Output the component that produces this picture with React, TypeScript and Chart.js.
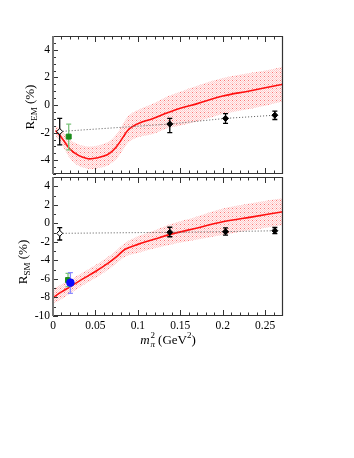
import React, { useEffect, useRef } from "react";
import { Chart, registerables } from "chart.js";
Chart.register(...registerables);

// ---------- data ----------
const xTickValues = [0, 0.05, 0.1, 0.15, 0.2, 0.25];
const emTickValues = [-4, -2, 0, 2, 4];
const smTickValues = [-10, -8, -6, -4, -2, 0, 2, 4];

// R_EM theory curve + band
const emCurveX = [0.003, 0.01, 0.02, 0.03, 0.04, 0.045, 0.051, 0.06, 0.067, 0.075, 0.083, 0.088, 0.094, 0.102, 0.118, 0.134, 0.149, 0.17, 0.2, 0.23, 0.25, 0.271];
const emCurve = [-1.85, -2.35, -3.2, -3.65, -3.88, -3.9, -3.84, -3.7, -3.48, -3.0, -2.29, -1.85, -1.55, -1.3, -0.98, -0.58, -0.25, 0.1, 0.65, 1.0, 1.25, 1.5];
const emBandHi = [-1.5, -1.8, -2.5, -2.85, -3.0, -3.0, -2.95, -2.8, -2.6, -2.1, -1.3, -0.85, -0.55, -0.3, 0.1, 0.6, 0.95, 1.4, 1.95, 2.3, 2.5, 2.75];
const emBandLo = [-2.2, -2.85, -3.85, -4.4, -4.6, -4.65, -4.6, -4.5, -4.3, -3.9, -3.2, -2.75, -2.5, -2.3, -2.1, -1.7, -1.5, -1.2, -0.65, -0.3, -0.05, 0.25];

// R_SM theory curve + band
const smCurveX = [0.0, 0.01, 0.02, 0.035, 0.05, 0.065, 0.075, 0.085, 0.1, 0.12, 0.138, 0.17, 0.2, 0.235, 0.271];
const smCurve = [-8.0, -7.4, -6.85, -6.0, -5.2, -4.3, -3.6, -2.8, -2.27, -1.7, -1.19, -0.5, 0.17, 0.7, 1.25];
const smBandHi = [-7.1, -6.6, -6.1, -5.3, -4.5, -3.6, -2.9, -2.1, -1.4, -0.75, -0.1, 0.75, 1.6, 2.2, 2.7];
const smBandLo = [-8.7, -8.2, -7.6, -6.7, -5.9, -5.0, -4.3, -3.6, -3.2, -2.7, -2.3, -1.75, -1.26, -0.7, -0.18];

// physical point (open diamond)
const openX = [0.0079];
const emOpenY = [-1.92];
const emOpenHi = [-0.97];
const emOpenLo = [-2.89];
const smOpenY = [-1.08];
const smOpenHi = [-0.47];
const smOpenLo = [-1.8];

// experiment (green square)
const emGreenX = [0.0185];
const emGreenY = [-2.29];
const emGreenHi = [-1.38];
const emGreenLo = [-3.25];
const smGreenX = [0.0177];
const smGreenY = [-6.12];
const smGreenHi = [-5.4];
const smGreenLo = [-6.84];

// experiment (blue circle, SM only)
const smBlueX = [0.0205];
const smBlueY = [-6.4];
const smBlueHi = [-5.33];
const smBlueLo = [-7.55];

// lattice points (filled diamonds)
const latX = [0.1376, 0.2033, 0.2614];
const emLatY = [-1.38, -0.97, -0.74];
const emLatHi = [-0.97, -0.62, -0.45];
const emLatLo = [-2.0, -1.33, -1.05];
const smLatY = [-0.97, -0.9, -0.8];
const smLatHi = [-0.42, -0.5, -0.45];
const smLatLo = [-1.45, -1.28, -1.12];

// ---------- helpers ----------
const SERIF = "'Liberation Serif', 'Times New Roman', serif";
const pts = (xs: number[], ys: number[]) => xs.map((x, i) => ({ x, y: ys[i] }));

function makePattern(): CanvasPattern | string {
  const c = document.createElement("canvas");
  c.width = 4;
  c.height = 4;
  const g = c.getContext("2d");
  if (!g) return "rgba(255,150,150,0.5)";
  for (let yy = 0; yy < 4; yy++) {
    for (let xx = 0; xx < 4; xx++) {
      g.fillStyle = (xx + yy) % 2 === 0 ? "rgba(255,140,140,0.45)" : "rgba(255,200,200,0.2)";
      g.fillRect(xx, yy, 1, 1);
    }
  }
  g.fillStyle = "rgba(250,50,50,0.55)";
  g.fillRect(0, 0, 1, 1);
  return g.createPattern(c, "repeat") || "rgba(255,150,150,0.5)";
}

const framePlugin = {
  id: "frame",
  afterDatasetsDraw(chart: any, _args: any, opts: any) {
    const { ctx, chartArea: a, scales } = chart;
    const xs = scales.x;
    const ys = scales.y;
    ctx.save();
    ctx.strokeStyle = "#333";
    ctx.lineWidth = 1;
    for (let i = 0; i <= 27; i++) {
      const v = i * 0.01;
      const major = i % 5 === 0;
      const px = Math.round(xs.getPixelForValue(v)) + 0.5;
      const len = major ? 6 : 3.5;
      ctx.beginPath();
      ctx.moveTo(px, a.top);
      ctx.lineTo(px, a.top + len);
      ctx.moveTo(px, a.bottom);
      ctx.lineTo(px, a.bottom - len);
      ctx.stroke();
    }
    const step = opts.yMinor;
    const n0 = Math.ceil(ys.min / step);
    const n1 = Math.floor(ys.max / step);
    for (let i = n0; i <= n1; i++) {
      const v = i * step;
      const major = Math.abs(v / 2 - Math.round(v / 2)) < 1e-6;
      const py = Math.round(ys.getPixelForValue(v)) + 0.5;
      const len = major ? 5 : 3;
      ctx.beginPath();
      ctx.moveTo(a.left, py);
      ctx.lineTo(a.left + len, py);
      ctx.stroke();
    }
    ctx.strokeStyle = "#333";
    ctx.lineWidth = 1.2;
    ctx.beginPath();
    ctx.moveTo(a.left, a.top + 0.5);
    ctx.lineTo(a.right - 0.5, a.top + 0.5);
    ctx.lineTo(a.right - 0.5, a.bottom - 0.5);
    ctx.lineTo(a.left, a.bottom - 0.5);
    ctx.stroke();
    ctx.strokeStyle = "#777";
    ctx.lineWidth = 2;
    ctx.beginPath();
    ctx.moveTo(a.left, a.top);
    ctx.lineTo(a.left, a.bottom);
    ctx.stroke();
    ctx.restore();
  },
};

const errPlugin = {
  id: "errbars",
  beforeDatasetDraw(chart: any, args: any) {
    const ds: any = chart.data.datasets[args.index];
    if (!ds.errHi) return;
    const { ctx } = chart;
    const xs = chart.scales.x;
    const ys = chart.scales.y;
    ctx.save();
    ctx.strokeStyle = ds.errColor;
    ctx.lineWidth = 1.3;
    ds.data.forEach((p: any, i: number) => {
      const px = xs.getPixelForValue(p.x);
      const yh = ys.getPixelForValue(ds.errHi[i]);
      const yl = ys.getPixelForValue(ds.errLo[i]);
      ctx.beginPath();
      ctx.moveTo(px, yh);
      ctx.lineTo(px, yl);
      ctx.moveTo(px - 2.5, yh);
      ctx.lineTo(px + 2.5, yh);
      ctx.moveTo(px - 2.5, yl);
      ctx.lineTo(px + 2.5, yl);
      ctx.stroke();
    });
    ctx.restore();
  },
};

function buildConfig(p: any) {
  const pattern = makePattern();
  const datasets: any[] = [
    {
      data: pts(p.curveX, p.bandLo),
      borderWidth: 0,
      pointRadius: 0,
      tension: 0.3,
      fill: false,
      order: 20,
    },
    {
      data: pts(p.curveX, p.bandHi),
      borderWidth: 0,
      pointRadius: 0,
      tension: 0.3,
      fill: "-1",
      backgroundColor: pattern,
      order: 19,
    },
    {
      data: pts(p.curveX, p.curve),
      borderColor: "#ff1010",
      borderWidth: 1.6,
      pointRadius: 0,
      tension: 0.35,
      fill: false,
      order: 10,
    },
    {
      data: [...pts(openX, p.openY), ...pts(latX, p.latY)],
      borderColor: "#555",
      borderWidth: 1,
      borderDash: [1, 2],
      pointRadius: 0,
      fill: false,
      order: 9,
    },
    {
      data: pts(openX, p.openY),
      showLine: false,
      pointStyle: "rectRot",
      pointRadius: 3,
      pointBackgroundColor: "#fff",
      pointBorderColor: "#000",
      pointBorderWidth: 1,
      errHi: p.openHi,
      errLo: p.openLo,
      errColor: "#000",
      order: 3,
    },
    {
      data: pts(p.greenX, p.greenY),
      showLine: false,
      pointStyle: "rect",
      pointRadius: 3.5,
      pointBackgroundColor: "#1a8c1a",
      pointBorderColor: "#1a8c1a",
      pointBorderWidth: 1,
      errHi: p.greenHi,
      errLo: p.greenLo,
      errColor: "#7cc47c",
      order: 4,
    },
    {
      data: pts(latX, p.latY),
      showLine: false,
      pointStyle: "rectRot",
      pointRadius: 3,
      pointBackgroundColor: "#000",
      pointBorderColor: "#000",
      pointBorderWidth: 1,
      errHi: p.latHi,
      errLo: p.latLo,
      errColor: "#000",
      order: 2,
    },
  ];
  if (p.blueX) {
    datasets.push({
      data: pts(p.blueX, p.blueY),
      showLine: false,
      pointStyle: "circle",
      pointRadius: 3.8,
      pointBackgroundColor: "#0a0aff",
      pointBorderColor: "#0a0aff",
      pointBorderWidth: 1,
      errHi: p.blueHi,
      errLo: p.blueLo,
      errColor: "#8a8aff",
      order: 1,
    });
  }
  const zeroPad = (s: any) => {
    s.paddingTop = 0;
    s.paddingBottom = 0;
    s.paddingLeft = 0;
    s.paddingRight = 0;
  };
  return {
    type: "line",
    data: { datasets },
    options: {
      responsive: false,
      animation: false,
      events: [],
      layout: { padding: p.padding, autoPadding: false },
      plugins: {
        legend: { display: false },
        tooltip: { enabled: false },
        frame: { yMinor: p.yMinor },
      },
      scales: {
        x: {
          type: "linear",
          min: 0,
          max: 0.271,
          grid: { display: false, drawTicks: false },
          border: { display: false },
          afterBuildTicks: (s: any) => {
            s.ticks = xTickValues.map((v) => ({ value: v }));
          },
          afterFit: (s: any) => {
            s.height = p.xHeight;
            zeroPad(s);
          },
          ticks: {
            display: p.showXLabels,
            padding: 3,
            color: "#000",
            font: { family: SERIF, size: 11.5 },
            maxRotation: 0,
            autoSkip: false,
            callback: (v: any) => String(v),
          },
        },
        y: {
          type: "linear",
          min: p.yMin,
          max: p.yMax,
          grid: { display: false, drawTicks: false },
          border: { display: false },
          afterBuildTicks: (s: any) => {
            s.ticks = p.yTicks.map((v: number) => ({ value: v }));
          },
          afterFit: (s: any) => {
            s.width = 53;
            zeroPad(s);
          },
          ticks: {
            padding: 3,
            color: "#000",
            font: { family: SERIF, size: 11.5 },
            autoSkip: false,
            callback: (v: any) => String(v),
          },
        },
      },
    },
    plugins: [framePlugin, errPlugin],
  };
}

export default function App() {
  const topRef = useRef<HTMLCanvasElement | null>(null);
  const botRef = useRef<HTMLCanvasElement | null>(null);

  useEffect(() => {
    const top = new Chart(
      topRef.current as HTMLCanvasElement,
      buildConfig({
        curveX: emCurveX,
        curve: emCurve,
        bandHi: emBandHi,
        bandLo: emBandLo,
        openY: emOpenY,
        openHi: emOpenHi,
        openLo: emOpenLo,
        greenX: emGreenX,
        greenY: emGreenY,
        greenHi: emGreenHi,
        greenLo: emGreenLo,
        latY: emLatY,
        latHi: emLatHi,
        latLo: emLatLo,
        yMin: -5,
        yMax: 5,
        yTicks: emTickValues,
        yMinor: 0.5,
        padding: { top: 36, right: 71, left: 0, bottom: 0 },
        xHeight: 2,
        showXLabels: false,
      }) as any
    );
    const bot = new Chart(
      botRef.current as HTMLCanvasElement,
      buildConfig({
        curveX: smCurveX,
        curve: smCurve,
        bandHi: smBandHi,
        bandLo: smBandLo,
        openY: smOpenY,
        openHi: smOpenHi,
        openLo: smOpenLo,
        greenX: smGreenX,
        greenY: smGreenY,
        greenHi: smGreenHi,
        greenLo: smGreenLo,
        blueX: smBlueX,
        blueY: smBlueY,
        blueHi: smBlueHi,
        blueLo: smBlueLo,
        latY: smLatY,
        latHi: smLatHi,
        latLo: smLatLo,
        yMin: -10,
        yMax: 5,
        yTicks: smTickValues,
        yMinor: 1,
        padding: { top: 1, right: 71, left: 0, bottom: 0 },
        xHeight: 142,
        showXLabels: true,
      }) as any
    );
    return () => {
      top.destroy();
      bot.destroy();
    };
  }, []);

  const serif: React.CSSProperties = { fontFamily: SERIF, color: "#000" };
  const yTitle = (left: number, top: number): React.CSSProperties => ({
    ...serif,
    position: "absolute",
    left,
    top,
    fontSize: 13,
    whiteSpace: "nowrap",
    transform: "translate(-50%, -50%) rotate(-90deg)",
    lineHeight: "14px",
  });
  const subStyle: React.CSSProperties = { fontSize: 9, verticalAlign: "-3px", lineHeight: 0 };

  return (
    <div
      style={{
        position: "fixed",
        left: 0,
        top: 0,
        width: 354,
        height: 458,
        background: "#fff",
        overflow: "hidden",
      }}
    >
      <canvas
        ref={topRef}
        width={354}
        height={176}
        style={{ position: "absolute", left: 0, top: 0, width: 354, height: 176 }}
      />
      <canvas
        ref={botRef}
        width={354}
        height={282}
        style={{ position: "absolute", left: 0, top: 176, width: 354, height: 282 }}
      />
      <div style={yTitle(30, 107)}>
        R<span style={subStyle}>EM</span> (%)
      </div>
      <div style={yTitle(23, 262)}>
        R<span style={subStyle}>SM</span> (%)
      </div>
      <div
        style={{
          ...serif,
          position: "absolute",
          left: 168,
          top: 340,
          transform: "translate(-50%, -50%)",
          fontSize: 13,
          whiteSpace: "nowrap",
          display: "flex",
          alignItems: "center",
        }}
      >
        <i>m</i>
        <span
          style={{
            display: "inline-flex",
            flexDirection: "column",
            fontSize: 9,
            lineHeight: "9px",
            marginLeft: 1,
            marginRight: 3,
          }}
        >
          <span>2</span>
          <i>π</i>
        </span>
        <span>
          (GeV<sup style={{ fontSize: 9, verticalAlign: "6px", lineHeight: 0 }}>2</sup>)
        </span>
      </div>
    </div>
  );
}
